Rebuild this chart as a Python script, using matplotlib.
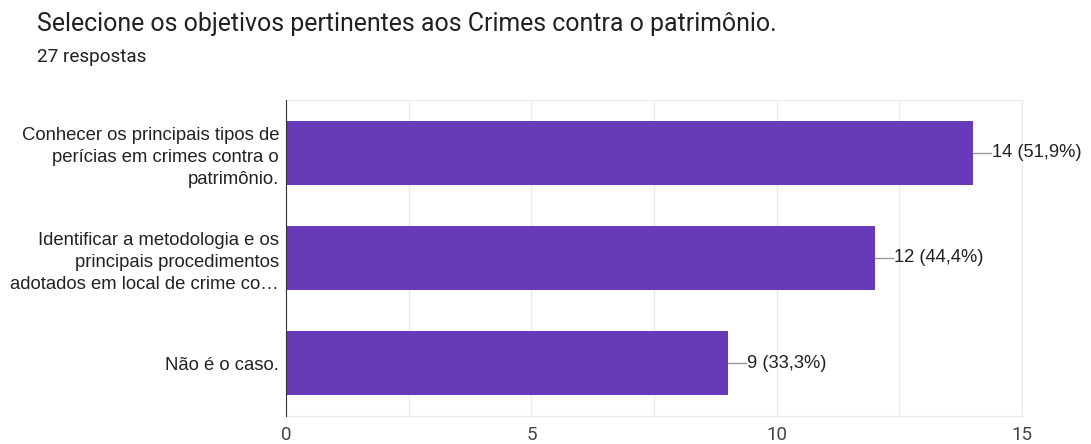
import numpy as np
import matplotlib.pyplot as plt

title = "Selecione os objetivos pertinentes aos Crimes contra o patrimônio."
subtitle = "27 respostas"
categories = [
    "Conhecer os principais tipos de\nperícias em crimes contra o\npatrimônio.",
    "Identificar a metodologia e os\nprincipais procedimentos\nadotados em local de crime co…",
    "Não é o caso.",
]
counts = [14, 12, 9]
labels = ["14 (51,9%)", "12 (44,4%)", "9 (33,3%)"]
xticks = [0, 5, 10, 15]

bar_color = "#673ab7"
text_color = "#222222"

fig = plt.figure(figsize=(10.91, 4.44), dpi=100)
ax = fig.add_axes([0.2621, 0.0631, 0.6747, 0.7117])

y = np.arange(len(categories))
ax.barh(y, counts, height=0.61, color=bar_color, zorder=3)

for yi, c, lab in zip(y, counts, labels):
    ax.plot([c, c + 0.37], [yi, yi], color="#999999", lw=1, zorder=3, clip_on=False)
    ax.text(c + 0.39, yi, lab, va="center", ha="left", fontsize=13.2,
            family="Liberation Sans", color=text_color)

ax.set_xlim(0, 15)
ax.set_ylim(2.5, -0.5)
ax.set_xticks(xticks)
ax.set_xticks(np.arange(0, 15.1, 2.5), minor=True)
ax.grid(axis="x", which="both", color="#ebebeb", lw=1, zorder=0)
ax.set_yticks(y)
ax.set_yticklabels(categories, fontsize=13.3, family="Liberation Sans", color=text_color,
                   linespacing=1.38)
ax.tick_params(axis="y", length=0, pad=5)
ax.tick_params(axis="x", which="both", length=0, pad=7, labelsize=13.5, labelcolor="#444444")
for t in ax.get_xticklabels():
    t.set_family("Roboto")

for s in ["top", "right", "bottom"]:
    ax.spines[s].set_color("#ebebeb")
ax.spines["left"].set_color("#333333")
ax.spines["left"].set_zorder(4)

fig.text(37 / 1091, 1 - 24 / 444, title, fontsize=17.9, family="Roboto",
         color="#202124", va="center", ha="left")
fig.text(37 / 1091, 1 - 57 / 444, subtitle, fontsize=13.6, family="Roboto",
         color="#202124", va="center", ha="left")

fig.savefig("out.png", dpi=100)
